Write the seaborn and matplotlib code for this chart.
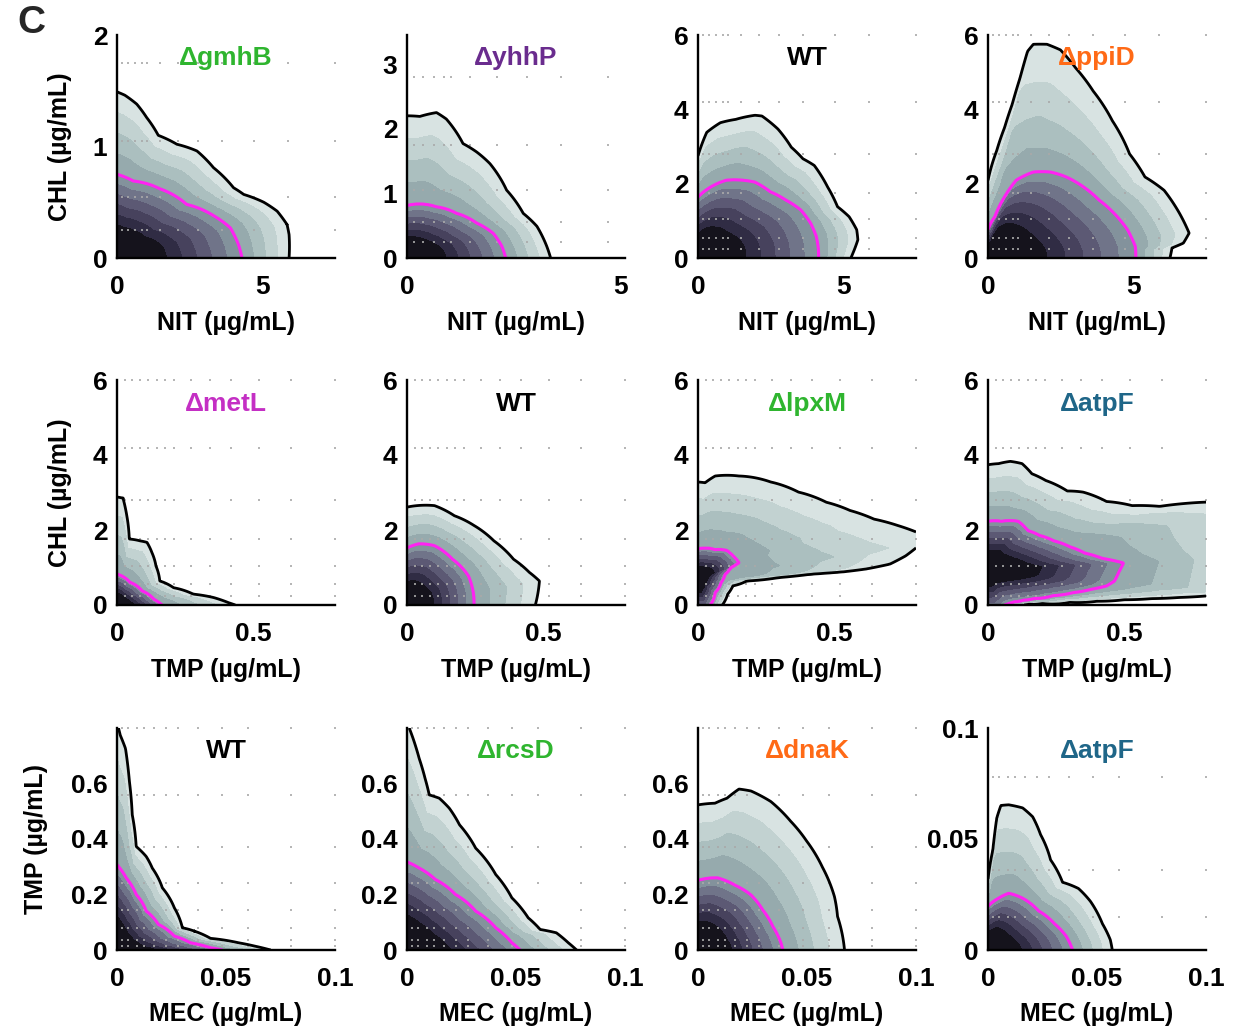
import numpy as np
import matplotlib
matplotlib.use("Agg")
import matplotlib.pyplot as plt
from matplotlib.ticker import FuncFormatter
import seaborn as sns

# ---------------------------------------------------------------------------
# Checkerboard concentrations (grid dots)
NIT_CONC = [0.17, 0.38, 0.62, 0.86, 1.03, 1.48, 2.1, 2.8, 3.6, 4.7, 5.9, 7.5]
CHL_CONC = [0.25, 0.55, 1.05, 1.75, 2.8, 4.2, 6.0]
TMP_X_CONC = [0.03, 0.055, 0.085, 0.115, 0.145, 0.175, 0.21, 0.27, 0.34, 0.42, 0.52, 0.64, 0.8]
TMP_Y_CONC = [0.015, 0.036, 0.078, 0.145, 0.24, 0.37, 0.56, 0.8]
MEC_CONC = [0.0025, 0.005, 0.009, 0.0125, 0.017, 0.0225, 0.028, 0.037, 0.048, 0.06, 0.08, 0.1]

# ---------------------------------------------------------------------------
# Growth isoboles: outer = 10 % growth (black), mid = 50 % growth (magenta)
# Row 1: NIT x CHL
GMHB_OUT_X = [0, 0.27, 0.68, 1.02, 1.42, 2.06, 2.75, 3.32, 4.01, 4.36, 5.05, 5.51, 5.85, 5.92, 5.92]
GMHB_OUT_Y = [1.49, 1.46, 1.38, 1.26, 1.10, 1.02, 0.96, 0.81, 0.63, 0.57, 0.50, 0.42, 0.30, 0.21, 0]
GMHB_MID_X = [0, 0.56, 1.48, 2.40, 3.32, 3.90, 4.18, 4.30]
GMHB_MID_Y = [0.75, 0.69, 0.62, 0.48, 0.38, 0.27, 0.12, 0]

YHHP_OUT_X = [0, 0.3, 0.69, 0.92, 1.31, 1.63, 1.94, 2.33, 2.72, 3.04, 3.27, 3.36]
YHHP_OUT_Y = [2.2, 2.19, 2.25, 2.15, 1.77, 1.64, 1.46, 1.05, 0.69, 0.49, 0.18, 0]
YHHP_MID_X = [0, 0.69, 1.16, 1.63, 2.02, 2.22, 2.31]
YHHP_MID_Y = [0.81, 0.79, 0.69, 0.54, 0.38, 0.18, 0]

WT1_OUT_X = [0, 0.3, 0.77, 1.3, 1.96, 2.2, 2.75, 3.21, 3.61, 4.0, 4.46, 4.8, 5.2, 5.46, 5.5, 5.33, 5.26]
WT1_OUT_Y = [2.75, 3.38, 3.64, 3.73, 3.84, 3.82, 3.47, 2.98, 2.67, 2.49, 1.91, 1.38, 1.11, 0.76, 0.49, 0.13, 0]
WT1_MID_X = [0, 0.44, 0.97, 1.56, 1.96, 2.49, 3.02, 3.54, 3.88, 4.07, 4.14, 4.15]
WT1_MID_Y = [1.64, 1.91, 2.09, 2.09, 2.04, 1.78, 1.56, 1.29, 0.93, 0.58, 0.27, 0]

PPID_OUT_X = [0, 0.30, 0.57, 0.83, 1.1, 1.36, 1.56, 2.03, 2.49, 3.02, 3.62, 4.28, 4.87, 5.4,
              6.06, 6.59, 6.92, 6.72, 6.33, 6.26]
PPID_OUT_Y = [2.09, 2.89, 3.51, 4.13, 4.84, 5.56, 5.75, 5.75, 5.6, 5.11, 4.49, 3.69, 2.8, 2.18,
              1.82, 1.2, 0.67, 0.4, 0.27, 0]
PPID_MID_X = [0, 0.24, 0.57, 0.97, 1.56, 2.16, 2.69, 3.29, 3.82, 4.34, 4.8, 5.07, 5.09]
PPID_MID_Y = [0.76, 1.11, 1.64, 2.09, 2.31, 2.31, 2.18, 1.91, 1.56, 1.2, 0.76, 0.31, 0]

# Row 2: TMP x CHL
METL_OUT_X = [0, 0.022, 0.036, 0.045, 0.085, 0.11, 0.128, 0.143, 0.157, 0.208, 0.28, 0.354, 0.41, 0.434]
METL_OUT_Y = [2.88, 2.85, 2.38, 1.76, 1.71, 1.67, 1.40, 1.04, 0.64, 0.46, 0.29, 0.20, 0.06, 0]
METL_MID_X = [0, 0.048, 0.092, 0.136, 0.165]
METL_MID_Y = [0.82, 0.6, 0.375, 0.15, 0]

WT2_OUT_X = [0, 0.101, 0.174, 0.246, 0.319, 0.391, 0.449, 0.486, 0.471]
WT2_OUT_Y = [2.61, 2.65, 2.38, 2.12, 1.71, 1.22, 0.87, 0.64, 0]
WT2_MID_X = [0, 0.043, 0.101, 0.167, 0.225, 0.243, 0.246]
WT2_MID_Y = [1.52, 1.63, 1.58, 1.22, 0.78, 0.33, 0]

LPXM_OUT_X = [0, 0.06, 0.089, 0.095, 0.109, 0.128, 0.179, 0.296, 0.413, 0.529, 0.617, 0.704, 0.762,
              0.803, 0.9, 0.803, 0.733, 0.646, 0.558, 0.471, 0.369, 0.267, 0.15, 0.063, 0.026, 0]
LPXM_OUT_Y = [-0.3, -0.3, 0, 0.06, 0.29, 0.51, 0.64, 0.73, 0.82, 0.88, 0.96, 1.09, 1.31,
              1.54, 1.75, 1.94, 2.12, 2.29, 2.52, 2.74, 3.01, 3.28, 3.44, 3.44, 3.26, 3.28]
LPXM_MID_X = [0, 0.03, 0.045, 0.063, 0.085, 0.099, 0.121, 0.15, 0.128, 0.106, 0.063, 0]
LPXM_MID_Y = [-0.2, -0.2, 0, 0.33, 0.6, 0.82, 1.0, 1.13, 1.31, 1.45, 1.47, 1.49]

ATPF2_OUT_X = [0, 0.05, 0.1, 0.15, 0.2, 0.3, 0.4, 0.5, 0.6, 0.7, 0.8, 1.0, 1.0, 0.788, 0.63, 0.529,
               0.435, 0.349, 0.291, 0.212, 0.161, 0.125, 0.082, 0.039, 0]
ATPF2_OUT_Y = [-0.3, -0.3, 0, 0.02, 0.04, 0.07, 0.1, 0.14, 0.17, 0.2, 0.24, 0.3, 2.7, 2.74, 2.63, 2.65,
               2.76, 3.01, 3.04, 3.32, 3.5, 3.77, 3.83, 3.77, 3.74]
ATPF2_MID_X = [0, 0.03, 0.061, 0.08, 0.097, 0.13, 0.169, 0.24, 0.313, 0.38, 0.435, 0.464, 0.48,
               0.497, 0.42, 0.356, 0.3, 0.241, 0.19, 0.147, 0.111, 0.05, 0]
ATPF2_MID_Y = [-0.2, -0.2, 0, 0.045, 0.08, 0.125, 0.17, 0.25, 0.33, 0.42, 0.51, 0.64, 0.88,
               1.12, 1.24, 1.38, 1.55, 1.71, 1.85, 1.98, 2.23, 2.23, 2.23]

# Row 3: MEC x TMP
WT3_OUT_X = [0, 0.0015, 0.0039, 0.0057, 0.007, 0.0088, 0.0134, 0.0162, 0.0208, 0.0263, 0.03, 0.0355,
             0.0429, 0.0558, 0.0632, 0.0705]
WT3_OUT_Y = [0.82, 0.774, 0.726, 0.607, 0.487, 0.373, 0.337, 0.295, 0.224, 0.152, 0.08, 0.068,
             0.042, 0.026, 0.014, 0]
WT3_MID_X = [0, 0.0042, 0.0088, 0.0134, 0.019, 0.0263, 0.0337, 0.0429, 0.0484]
WT3_MID_Y = [0.307, 0.26, 0.2, 0.14, 0.092, 0.05, 0.026, 0.008, 0]

RCSD_OUT_X = [0, 0.0028, 0.0056, 0.0083, 0.0102, 0.0148, 0.0194, 0.0241, 0.0315, 0.0407, 0.0481,
              0.0556, 0.0611, 0.0685, 0.074, 0.0778]
RCSD_OUT_Y = [0.82, 0.762, 0.69, 0.618, 0.559, 0.547, 0.511, 0.451, 0.367, 0.272, 0.188,
              0.116, 0.074, 0.062, 0.026, 0]
RCSD_MID_X = [0, 0.0056, 0.013, 0.0222, 0.0315, 0.0407, 0.0481, 0.0519]
RCSD_MID_Y = [0.317, 0.295, 0.254, 0.2, 0.14, 0.08, 0.026, 0]

DNAK_OUT_X = [0, 0.0078, 0.0133, 0.0188, 0.0243, 0.0334, 0.0425, 0.0498, 0.0571, 0.0626, 0.064, 0.0672]
DNAK_OUT_Y = [0.523, 0.529, 0.547, 0.58, 0.573, 0.535, 0.464, 0.393, 0.298, 0.192, 0.121, 0]
DNAK_MID_X = [0, 0.0088, 0.017, 0.0243, 0.0297, 0.0343, 0.038, 0.0389]
DNAK_MID_Y = [0.251, 0.26, 0.233, 0.198, 0.144, 0.085, 0.026, 0]

ATPF3_OUT_X = [0, 0.0022, 0.004, 0.0059, 0.0095, 0.0159, 0.0205, 0.0241, 0.0287, 0.0342, 0.0415,
               0.047, 0.0525, 0.0561, 0.057]
ATPF3_OUT_Y = [0.032, 0.045, 0.0594, 0.0651, 0.0654, 0.064, 0.06, 0.052, 0.0406, 0.0305, 0.0277,
               0.0219, 0.0118, 0.0046, 0]
ATPF3_MID_X = [0, 0.0049, 0.0095, 0.0159, 0.0232, 0.0305, 0.036, 0.0388]
ATPF3_MID_Y = [0.0197, 0.0233, 0.0255, 0.0233, 0.0176, 0.0118, 0.006, 0]

# ---------------------------------------------------------------------------
GREEN, PURPLE, ORANGE, MAGENTA, TEAL = "#2fb52f", "#6a2c8e", "#ff6a16", "#c42fc4", "#1f6688"

PANELS = [
    # row 1
    dict(title="\u0394gmhB", color=GREEN, xlim=7.5, ylim=2.0, xt=[0, 5], yt=[0, 1, 2],
         xc=NIT_CONC, yc=CHL_CONC, xl="NIT (\u00b5g/mL)", center=(0, 0),
         outer=(GMHB_OUT_X, GMHB_OUT_Y), mid=(GMHB_MID_X, GMHB_MID_Y)),
    dict(title="\u0394yhhP", color=PURPLE, xlim=5.1, ylim=3.45, xt=[0, 5], yt=[0, 1, 2, 3],
         xc=NIT_CONC, yc=CHL_CONC, xl="NIT (\u00b5g/mL)", center=(0, 0),
         outer=(YHHP_OUT_X, YHHP_OUT_Y), mid=(YHHP_MID_X, YHHP_MID_Y)),
    dict(title="WT", color="black", xlim=7.5, ylim=6.0, xt=[0, 5], yt=[0, 2, 4, 6],
         xc=NIT_CONC, yc=CHL_CONC, xl="NIT (\u00b5g/mL)", center=(0, 0),
         outer=(WT1_OUT_X, WT1_OUT_Y), mid=(WT1_MID_X, WT1_MID_Y)),
    dict(title="\u0394ppiD", color=ORANGE, xlim=7.5, ylim=6.0, xt=[0, 5], yt=[0, 2, 4, 6],
         xc=NIT_CONC, yc=CHL_CONC, xl="NIT (\u00b5g/mL)", center=(0, 0),
         outer=(PPID_OUT_X, PPID_OUT_Y), mid=(PPID_MID_X, PPID_MID_Y)),
    # row 2
    dict(title="\u0394metL", color=MAGENTA, xlim=0.8, ylim=6.0, xt=[0, 0.5], yt=[0, 2, 4, 6],
         xc=TMP_X_CONC, yc=CHL_CONC, xl="TMP (\u00b5g/mL)", center=(0, 0),
         outer=(METL_OUT_X, METL_OUT_Y), mid=(METL_MID_X, METL_MID_Y)),
    dict(title="WT", color="black", xlim=0.8, ylim=6.0, xt=[0, 0.5], yt=[0, 2, 4, 6],
         xc=TMP_X_CONC, yc=CHL_CONC, xl="TMP (\u00b5g/mL)", center=(0, 0),
         outer=(WT2_OUT_X, WT2_OUT_Y), mid=(WT2_MID_X, WT2_MID_Y)),
    dict(title="\u0394lpxM", color=GREEN, xlim=0.8, ylim=6.0, xt=[0, 0.5], yt=[0, 2, 4, 6],
         xc=TMP_X_CONC, yc=CHL_CONC, xl="TMP (\u00b5g/mL)", center=(0, 0.7),
         outer=(LPXM_OUT_X, LPXM_OUT_Y), mid=(LPXM_MID_X, LPXM_MID_Y)),
    dict(title="\u0394atpF", color=TEAL, xlim=0.8, ylim=6.0, xt=[0, 0.5], yt=[0, 2, 4, 6],
         xc=TMP_X_CONC, yc=CHL_CONC, xl="TMP (\u00b5g/mL)", center=(0, 0.95),
         outer=(ATPF2_OUT_X, ATPF2_OUT_Y), mid=(ATPF2_MID_X, ATPF2_MID_Y)),
    # row 3
    dict(title="WT", color="black", xlim=0.1, ylim=0.8, xt=[0, 0.05, 0.1], yt=[0, 0.2, 0.4, 0.6],
         xc=MEC_CONC, yc=TMP_Y_CONC, xl="MEC (\u00b5g/mL)", center=(0, 0),
         outer=(WT3_OUT_X, WT3_OUT_Y), mid=(WT3_MID_X, WT3_MID_Y)),
    dict(title="\u0394rcsD", color=GREEN, xlim=0.1, ylim=0.8, xt=[0, 0.05, 0.1], yt=[0, 0.2, 0.4, 0.6],
         xc=MEC_CONC, yc=TMP_Y_CONC, xl="MEC (\u00b5g/mL)", center=(0, 0),
         outer=(RCSD_OUT_X, RCSD_OUT_Y), mid=(RCSD_MID_X, RCSD_MID_Y)),
    dict(title="\u0394dnaK", color=ORANGE, xlim=0.1, ylim=0.8, xt=[0, 0.05, 0.1], yt=[0, 0.2, 0.4, 0.6],
         xc=MEC_CONC, yc=TMP_Y_CONC, xl="MEC (\u00b5g/mL)", center=(0, 0),
         outer=(DNAK_OUT_X, DNAK_OUT_Y), mid=(DNAK_MID_X, DNAK_MID_Y)),
    dict(title="\u0394atpF", color=TEAL, xlim=0.1, ylim=0.1, xt=[0, 0.05, 0.1], yt=[0, 0.05, 0.1],
         xc=MEC_CONC, yc=TMP_Y_CONC, xl="MEC (\u00b5g/mL)", center=(0, 0),
         outer=(ATPF3_OUT_X, ATPF3_OUT_Y), mid=(ATPF3_MID_X, ATPF3_MID_Y)),
]
ROW_YLABELS = ["CHL (\u00b5g/mL)", "CHL (\u00b5g/mL)", "TMP (\u00b5g/mL)"]

LEVELS = [0.1, 0.2, 0.3, 0.4, 0.5, 0.6, 0.7, 0.8, 0.9, 1.0, 10.0]
BAND_COLORS = ["#d8e3e2", "#c2d2d1", "#abbfbf", "#96aaad", "#83929c",
               "#707489", "#5c5974", "#47425d", "#302c44", "#15131c"]
G_CENTER = 1.33


def growth_surface(xmax, ymax, center, outer, mid, n=401):
    """Relative growth on a fine grid, built from the 10 % and 50 % isoboles."""
    xs = np.linspace(0, xmax, n)
    ys = np.linspace(0, ymax, n)
    X, Y = np.meshgrid(xs, ys)
    cx, cy = center
    U = (X - cx) / xmax
    V = (Y - cy) / ymax
    theta = np.arctan2(V, U)
    rad = np.hypot(U, V)

    def edge_radius(px, py):
        bu = (np.asarray(px, float) - cx) / xmax
        bv = (np.asarray(py, float) - cy) / ymax
        bt = np.arctan2(bv, bu)
        br = np.hypot(bu, bv)
        k = np.argsort(bt)
        return np.interp(theta, bt[k], br[k])

    r10 = edge_radius(*outer)
    r50 = edge_radius(*mid)
    inner = G_CENTER - (G_CENTER - 0.5) * rad / r50
    outside = 0.5 - 0.4 * (rad - r50) / np.maximum(r10 - r50, 1e-6)
    return X, Y, np.where(rad <= r50, inner, outside)


sns.set_theme(style="white")
plt.rcParams["font.family"] = ["Liberation Sans", "DejaVu Sans"]
plt.rcParams["font.weight"] = "bold"
plt.rcParams["axes.labelweight"] = "bold"

W, H = 1240, 1032
fig = plt.figure(figsize=(W / 100, H / 100), dpi=100)

LEFTS = [117, 407, 698, 988]
ROWS = [(35, 258), (380, 605), (728, 950)]
PANEL_W = 218

fmt = FuncFormatter(lambda v, _: "%g" % v)

for i, p in enumerate(PANELS):
    r, c = divmod(i, 4)
    top, base = ROWS[r]
    ax = fig.add_axes([LEFTS[c] / W, 1 - base / H, PANEL_W / W, (base - top) / H])

    X, Y, G = growth_surface(p["xlim"], p["ylim"], p["center"], p["outer"], p["mid"])
    ax.contourf(X, Y, G, levels=LEVELS, colors=BAND_COLORS, zorder=1)

    gx, gy = np.meshgrid([v for v in p["xc"] if v <= p["xlim"] * 1.001],
                         [v for v in p["yc"] if v <= p["ylim"] * 1.001])
    sns.scatterplot(x=gx.ravel(), y=gy.ravel(), ax=ax, s=4, marker="s", color="#a9a9a9",
                    linewidth=0, alpha=0.85, zorder=2, clip_on=False)

    ax.contour(X, Y, G, levels=[0.1], colors="black", linewidths=2.0, zorder=3)
    ax.contour(X, Y, G, levels=[0.5], colors="#ff22f2", linewidths=2.2, zorder=3)

    ax.set_xlim(0, p["xlim"])
    ax.set_ylim(0, p["ylim"])
    ax.set_xticks(p["xt"])
    ax.set_yticks(p["yt"])
    ax.xaxis.set_major_formatter(fmt)
    ax.yaxis.set_major_formatter(fmt)
    ax.tick_params(axis="both", length=0, labelsize=19, colors="black")
    ax.tick_params(axis="x", pad=12)
    ax.tick_params(axis="y", pad=7)
    ax.grid(False)
    ax.set_facecolor("white")
    sns.despine(ax=ax)
    for side in ("left", "bottom"):
        ax.spines[side].set_color("black")
        ax.spines[side].set_linewidth(1.7)
        ax.spines[side].set_zorder(4)

    ax.set_xlabel(p["xl"], fontsize=18, fontweight="bold", color="black")
    ax.xaxis.label.set_verticalalignment("center")
    ax.xaxis.set_label_coords(0.5, -0.29)
    if c == 0:
        ax.set_ylabel(ROW_YLABELS[r], fontsize=18, fontweight="bold", color="black")
        ax.yaxis.label.set_verticalalignment("center")
        ax.yaxis.set_label_coords(-0.37 if r == 2 else -0.26, 0.5)

    ax.text(0.5, 0.895, p["title"], transform=ax.transAxes, ha="center", va="center",
            fontsize=19, fontweight="bold", color=p["color"], zorder=5)

fig.text(31 / W, 1 - 23 / H, "C", fontsize=28, fontweight="bold", ha="center", va="center")

fig.savefig("out.png", dpi=100, facecolor="white")
